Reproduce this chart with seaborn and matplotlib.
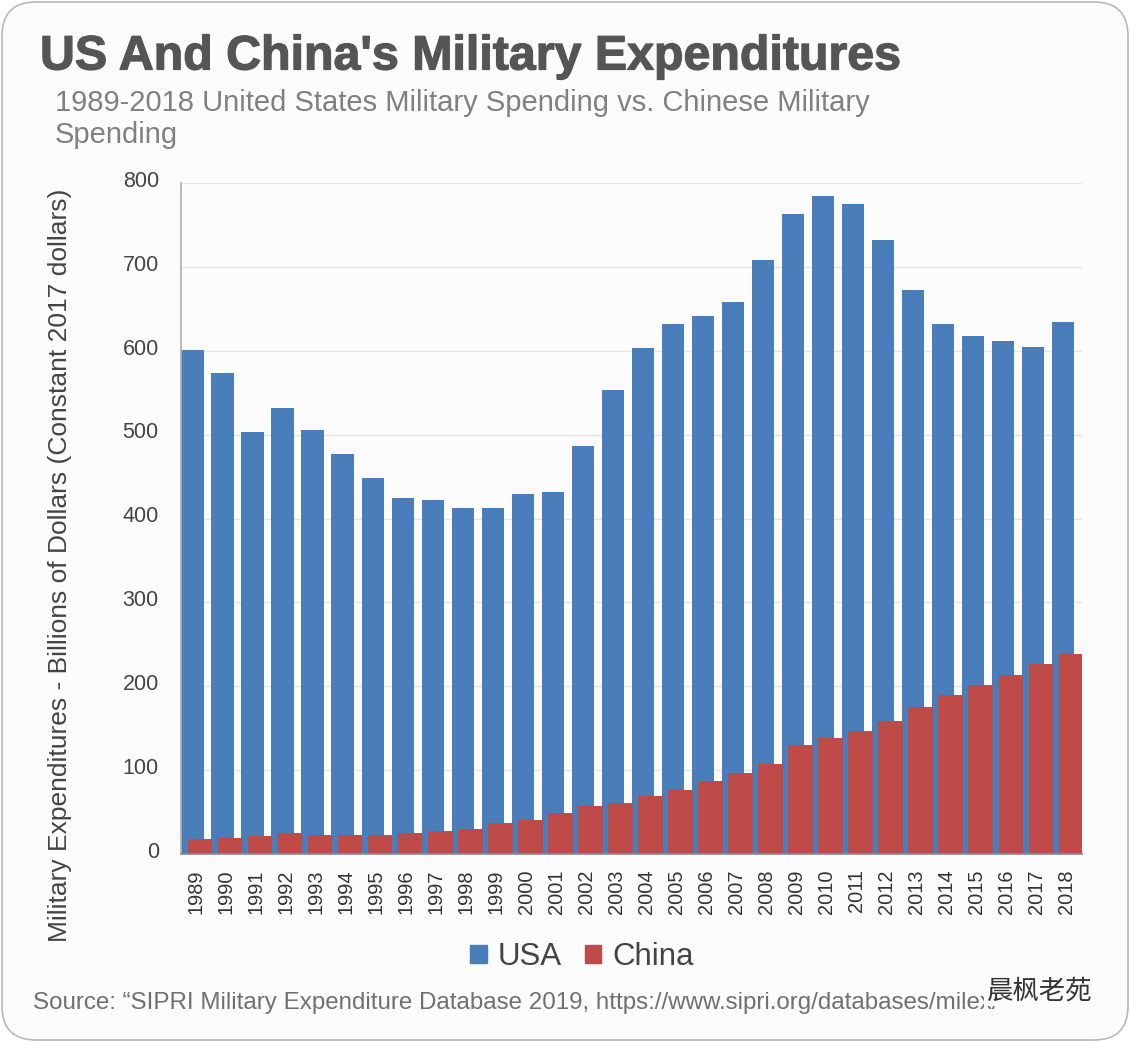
import matplotlib
matplotlib.use('Agg')
import matplotlib.pyplot as plt
import matplotlib.patheffects as pe
from matplotlib.patches import FancyBboxPatch, Patch
from matplotlib.transforms import ScaledTranslation
import pandas as pd
import seaborn as sns

years = list(range(1989, 2019))
usa = [601, 574, 503, 532, 505, 477, 448, 424, 422, 412,
       412, 429, 431, 486, 553, 603, 632, 641, 658, 708,
       763, 784, 775, 732, 672, 632, 617, 612, 605, 634]
china = [18, 19, 21, 25, 23, 23, 23, 25, 27, 30,
         37, 40, 49, 57, 61, 69, 76, 87, 97, 107,
         130, 138, 147, 159, 175, 190, 202, 214, 226, 239]

title = "US And China's Military Expenditures"
subtitle = "1989-2018 United States Military Spending vs. Chinese Military\nSpending"
y_label = "Military Expenditures - Billions of Dollars (Constant 2017 dollars)"
source = "Source: \u201cSIPRI Military Expenditure Database 2019, https://www.sipri.org/databases/milex/"
watermark = "晨枫老苑"

blue = '#4a7ebb'
red = '#be4b48'
W, H = 1130, 1042

sns.set_theme(style='white')
plt.rcParams['font.family'] = ['Liberation Sans', 'Noto Sans CJK SC', 'DejaVu Sans']

df = pd.DataFrame({'year': years, 'usa': usa, 'china': china})

fig = plt.figure(figsize=(W / 100, H / 100), dpi=100, facecolor='white')
card = FancyBboxPatch((2 / W, 2 / H), 1 - 4 / W, 1 - 4 / H, transform=fig.transFigure,
                      boxstyle='round,pad=0,rounding_size=0.03', mutation_aspect=W / H,
                      fc='#fcfcfd', ec='#b8b8b8', lw=1.2, zorder=-1)
fig.add_artist(card)

ax = fig.add_axes([181 / W, 1 - 854 / H, 901 / W, 671 / H], facecolor='none')
ax.grid(axis='y', color='#e6e6e6', lw=1)
ax.set_axisbelow(True)
sns.barplot(x=df['year'] - 0.12, y=df['usa'], native_scale=True, width=0.74,
            color=blue, saturation=1, linewidth=0, ax=ax)
sns.barplot(x=df['year'] + 0.13, y=df['china'], native_scale=True, width=0.82,
            color=red, saturation=1, linewidth=0, ax=ax)

ax.set_xlim(1988.5, 2018.5)
ax.set_ylim(0, 800)
ax.set_xticks(years)
ax.set_xticklabels(years, rotation=90, fontsize=14.4, color='#333333')
ax.set_yticks(range(0, 801, 100))
ax.tick_params(axis='y', labelsize=15.5, labelcolor='#444444', length=0, pad=16)
ax.tick_params(axis='x', length=0, pad=11)
ax.set_xlabel('')
ax.set_ylabel('')
sns.despine(ax=ax, top=True, right=True)
ax.spines['left'].set_color('#b0b0b0')
ax.spines['bottom'].set_color('#8a8a9a')
# labels sit a little above their gridlines in the original
for lbl in ax.get_yticklabels():
    lbl.set_transform(lbl.get_transform() + ScaledTranslation(0, 3 / 72, fig.dpi_scale_trans))

title_text = fig.text(40 / W, 1 - 57 / H, title, fontsize=34.8, fontweight='bold', color='#555555', va='center')
title_text.set_path_effects([pe.withStroke(linewidth=0.9, foreground='#555555')])
fig.text(55 / W, 1 - 119 / H, subtitle, fontsize=21, color='#808080', va='center', linespacing=1.15)
fig.text(60 / W, 1 - 565 / H, y_label, fontsize=19, color='#444444', rotation=90,
         ha='center', va='center')
fig.text(33 / W, 1 - 1003 / H, source, fontsize=17.4, color='#707070', va='center')
fig.text(1040 / W, 1 - 991 / H, watermark, fontsize=19, color='#333333', ha='center', va='center',
         style='italic', bbox=dict(fc='#fcfcfd', ec='none', pad=2))

handles = [Patch(color=blue, label='USA'), Patch(color=red, label='China')]
fig.legend(handles=handles, loc='center', bbox_to_anchor=(582 / W, 1 - 957 / H), ncol=2,
           frameon=False, fontsize=22.5, labelcolor='#444444', handlelength=0.52, handleheight=0.52,
           handletextpad=0.35, columnspacing=0.75)

fig.savefig('out.png', dpi=100)
